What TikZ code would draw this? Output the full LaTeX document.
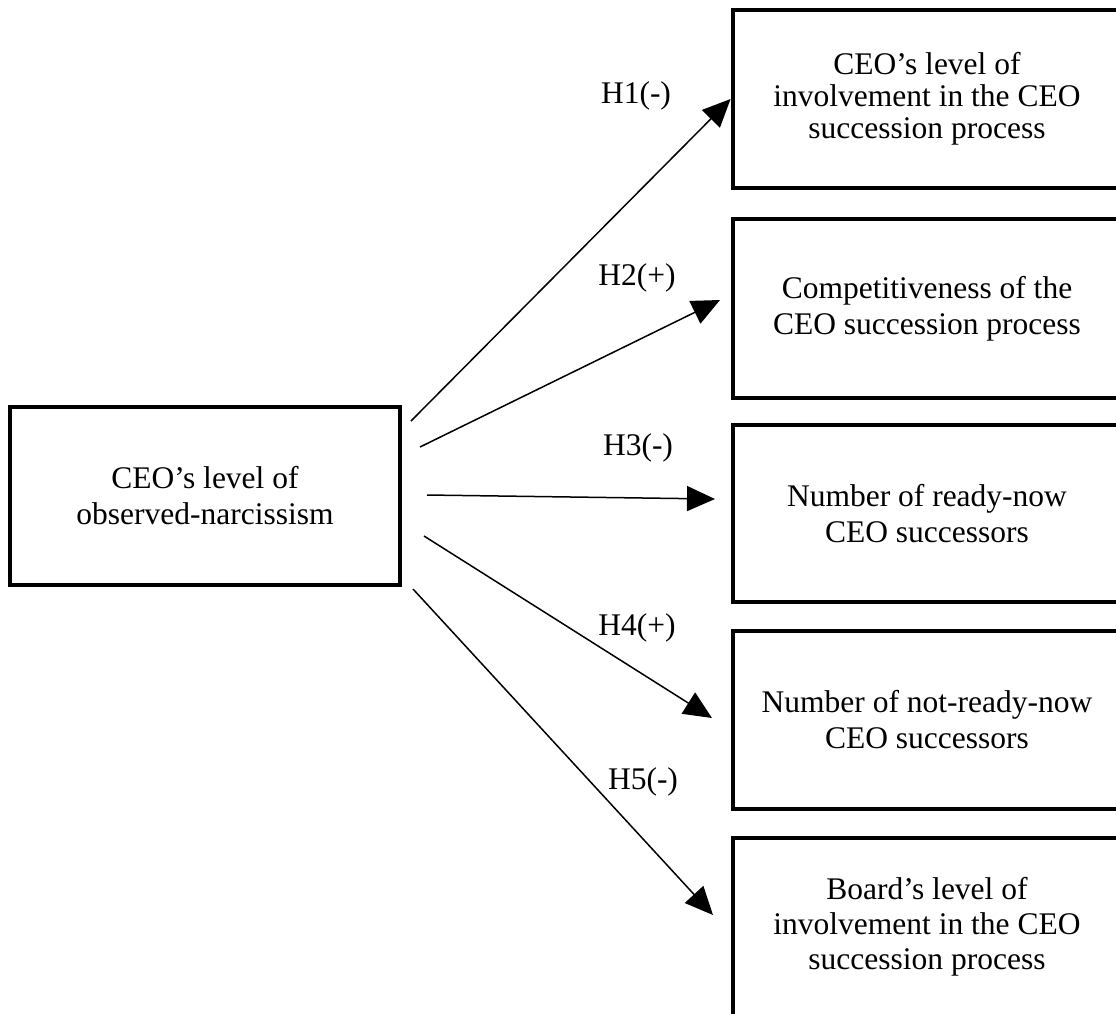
\documentclass[tikz,border=0pt]{standalone}
\usepackage{fontspec}
\setmainfont{Liberation Serif}
\usetikzlibrary{arrows.meta}
\begin{document}
\begin{tikzpicture}[x=0.5pt,y=-0.5pt,
  box/.style={draw, line width=2.4pt, align=center, inner sep=0pt,
    font=\fontsize{15.75}{18}\selectfont},
  rbox/.style={box, minimum width=194pt, minimum height=89pt},
  arr/.style={line width=0.75pt, -{Triangle[length=14pt,width=12.5pt]}},
  lab/.style={inner sep=0pt, font=\fontsize{15.75}{18}\selectfont}]
\useasboundingbox (0,0) rectangle (1116,1014);
\clip (0,0) rectangle (1116,1014);
% boxes
\node[box, minimum width=195pt, minimum height=89pt] (src) at (205,496)
  {CEO’s level of\\observed-narcissism};
\node[rbox, font=\fontsize{15.75}{16}\selectfont] (b1) at (927,99)
  {CEO’s level of\\involvement in the CEO\\succession process};
\node[rbox, minimum height=89.5pt] (b2) at (927,308.5)
  {Competitiveness of the\\CEO succession process};
\node[rbox, minimum height=88.5pt] (b3) at (927,513.5)
  {Number of ready-now\\CEO successors};
\node[rbox] (b4) at (927,720)
  {Number of not-ready-now\\CEO successors};
\node[rbox, font=\fontsize{15.75}{17.5}\selectfont] (b5) at (927,927)
  {Board’s level of\\involvement in the CEO\\succession process};
% connector ends
\coordinate (s1) at (411,421);
\coordinate (s2) at (420,447);
\coordinate (s3) at (427,495);
\coordinate (s4) at (424,536);
\coordinate (s5) at (413,589);
\coordinate (t2) at (720,300);
\coordinate (t3) at (715,499);
\coordinate (t4) at (712,718);
\coordinate (t5) at (713,915);
% arrows
\draw[arr] (s1) -- (b1.west);
\draw[arr] (s2) -- (t2);
\draw[arr] (s3) -- (t3);
\draw[arr] (s4) -- (t4);
\draw[arr] (s5) -- (t5);
% labels
\node[lab] (h1) at (636,96) {H1(-)};
\node[lab] (h2) at (637,278) {H2(+)};
\node[lab] (h3) at (638,448) {H3(-)};
\node[lab] (h4) at (637,628) {H4(+)};
\node[lab] (h5) at (643,782) {H5(-)};
\end{tikzpicture}
\end{document}
